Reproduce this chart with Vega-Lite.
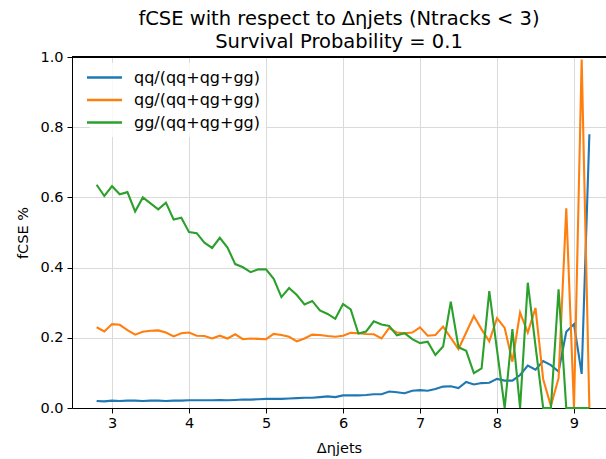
{
 "$schema": "https://vega.github.io/schema/vega-lite/v6.json",
 "width": 534,
 "height": 351,
 "autosize": {"type": "none"},
 "padding": {"left": 72, "top": 57, "right": 0, "bottom": 51},
 "background": "white",
 "config": {
  "font": "DejaVu Sans",
  "view": {"stroke": null},
  "axis": {
   "labelFont": "DejaVu Sans", "titleFont": "DejaVu Sans",
   "labelFontSize": 14.5, "titleFontSize": 14.5, "titleFontWeight": "normal",
   "labelColor": "black", "titleColor": "black",
   "domainColor": "black", "domainWidth": 1,
   "tickColor": "black", "tickSize": 5, "tickWidth": 1,
   "gridColor": "#dadada", "gridWidth": 1
  }
 },
 "title": {
  "text": ["fCSE with respect to Δηjets (Ntracks < 3)", "Survival Probability = 0.1"],
  "fontSize": 19.5, "fontWeight": "normal", "font": "DejaVu Sans", "color": "black",
  "anchor": "middle", "offset": 0, "dy": 3, "lineHeight": 23
 },
 "data": {"values": [
  {"x":2.8,"s":"qq/(qq+qg+gg)","f":0.020},{"x":2.9,"s":"qq/(qq+qg+gg)","f":0.019},{"x":3.0,"s":"qq/(qq+qg+gg)","f":0.021},{"x":3.1,"s":"qq/(qq+qg+gg)","f":0.020},{"x":3.2,"s":"qq/(qq+qg+gg)","f":0.021},{"x":3.3,"s":"qq/(qq+qg+gg)","f":0.021},{"x":3.4,"s":"qq/(qq+qg+gg)","f":0.020},{"x":3.5,"s":"qq/(qq+qg+gg)","f":0.021},{"x":3.6,"s":"qq/(qq+qg+gg)","f":0.021},{"x":3.7,"s":"qq/(qq+qg+gg)","f":0.020},{"x":3.8,"s":"qq/(qq+qg+gg)","f":0.021},{"x":3.9,"s":"qq/(qq+qg+gg)","f":0.021},{"x":4.0,"s":"qq/(qq+qg+gg)","f":0.022},{"x":4.1,"s":"qq/(qq+qg+gg)","f":0.022},{"x":4.2,"s":"qq/(qq+qg+gg)","f":0.022},{"x":4.3,"s":"qq/(qq+qg+gg)","f":0.022},{"x":4.4,"s":"qq/(qq+qg+gg)","f":0.023},{"x":4.5,"s":"qq/(qq+qg+gg)","f":0.022},{"x":4.6,"s":"qq/(qq+qg+gg)","f":0.023},{"x":4.7,"s":"qq/(qq+qg+gg)","f":0.024},{"x":4.8,"s":"qq/(qq+qg+gg)","f":0.024},{"x":4.9,"s":"qq/(qq+qg+gg)","f":0.025},{"x":5.0,"s":"qq/(qq+qg+gg)","f":0.026},{"x":5.1,"s":"qq/(qq+qg+gg)","f":0.026},{"x":5.2,"s":"qq/(qq+qg+gg)","f":0.026},{"x":5.3,"s":"qq/(qq+qg+gg)","f":0.027},{"x":5.4,"s":"qq/(qq+qg+gg)","f":0.028},{"x":5.5,"s":"qq/(qq+qg+gg)","f":0.029},{"x":5.6,"s":"qq/(qq+qg+gg)","f":0.029},{"x":5.7,"s":"qq/(qq+qg+gg)","f":0.031},{"x":5.8,"s":"qq/(qq+qg+gg)","f":0.033},{"x":5.9,"s":"qq/(qq+qg+gg)","f":0.031},{"x":6.0,"s":"qq/(qq+qg+gg)","f":0.036},{"x":6.1,"s":"qq/(qq+qg+gg)","f":0.036},{"x":6.2,"s":"qq/(qq+qg+gg)","f":0.036},{"x":6.3,"s":"qq/(qq+qg+gg)","f":0.037},{"x":6.4,"s":"qq/(qq+qg+gg)","f":0.039},{"x":6.5,"s":"qq/(qq+qg+gg)","f":0.039},{"x":6.6,"s":"qq/(qq+qg+gg)","f":0.047},{"x":6.7,"s":"qq/(qq+qg+gg)","f":0.045},{"x":6.8,"s":"qq/(qq+qg+gg)","f":0.042},{"x":6.9,"s":"qq/(qq+qg+gg)","f":0.049},{"x":7.0,"s":"qq/(qq+qg+gg)","f":0.051},{"x":7.1,"s":"qq/(qq+qg+gg)","f":0.049},{"x":7.2,"s":"qq/(qq+qg+gg)","f":0.054},{"x":7.3,"s":"qq/(qq+qg+gg)","f":0.061},{"x":7.4,"s":"qq/(qq+qg+gg)","f":0.062},{"x":7.5,"s":"qq/(qq+qg+gg)","f":0.057},{"x":7.6,"s":"qq/(qq+qg+gg)","f":0.074},{"x":7.7,"s":"qq/(qq+qg+gg)","f":0.067},{"x":7.8,"s":"qq/(qq+qg+gg)","f":0.071},{"x":7.9,"s":"qq/(qq+qg+gg)","f":0.072},{"x":8.0,"s":"qq/(qq+qg+gg)","f":0.083},{"x":8.1,"s":"qq/(qq+qg+gg)","f":0.078},{"x":8.2,"s":"qq/(qq+qg+gg)","f":0.078},{"x":8.3,"s":"qq/(qq+qg+gg)","f":0.094},{"x":8.4,"s":"qq/(qq+qg+gg)","f":0.121},{"x":8.5,"s":"qq/(qq+qg+gg)","f":0.109},{"x":8.6,"s":"qq/(qq+qg+gg)","f":0.134},{"x":8.7,"s":"qq/(qq+qg+gg)","f":0.122},{"x":8.8,"s":"qq/(qq+qg+gg)","f":0.104},{"x":8.9,"s":"qq/(qq+qg+gg)","f":0.217},{"x":9.0,"s":"qq/(qq+qg+gg)","f":0.239},{"x":9.1,"s":"qq/(qq+qg+gg)","f":0.097},{"x":9.2,"s":"qq/(qq+qg+gg)","f":0.780},
  {"x":2.8,"s":"qg/(qq+qg+gg)","f":0.230},{"x":2.9,"s":"qg/(qq+qg+gg)","f":0.218},{"x":3.0,"s":"qg/(qq+qg+gg)","f":0.239},{"x":3.1,"s":"qg/(qq+qg+gg)","f":0.237},{"x":3.2,"s":"qg/(qq+qg+gg)","f":0.222},{"x":3.3,"s":"qg/(qq+qg+gg)","f":0.209},{"x":3.4,"s":"qg/(qq+qg+gg)","f":0.217},{"x":3.5,"s":"qg/(qq+qg+gg)","f":0.220},{"x":3.6,"s":"qg/(qq+qg+gg)","f":0.221},{"x":3.7,"s":"qg/(qq+qg+gg)","f":0.215},{"x":3.8,"s":"qg/(qq+qg+gg)","f":0.204},{"x":3.9,"s":"qg/(qq+qg+gg)","f":0.213},{"x":4.0,"s":"qg/(qq+qg+gg)","f":0.215},{"x":4.1,"s":"qg/(qq+qg+gg)","f":0.206},{"x":4.2,"s":"qg/(qq+qg+gg)","f":0.205},{"x":4.3,"s":"qg/(qq+qg+gg)","f":0.198},{"x":4.4,"s":"qg/(qq+qg+gg)","f":0.206},{"x":4.5,"s":"qg/(qq+qg+gg)","f":0.198},{"x":4.6,"s":"qg/(qq+qg+gg)","f":0.210},{"x":4.7,"s":"qg/(qq+qg+gg)","f":0.196},{"x":4.8,"s":"qg/(qq+qg+gg)","f":0.198},{"x":4.9,"s":"qg/(qq+qg+gg)","f":0.197},{"x":5.0,"s":"qg/(qq+qg+gg)","f":0.196},{"x":5.1,"s":"qg/(qq+qg+gg)","f":0.211},{"x":5.2,"s":"qg/(qq+qg+gg)","f":0.208},{"x":5.3,"s":"qg/(qq+qg+gg)","f":0.203},{"x":5.4,"s":"qg/(qq+qg+gg)","f":0.190},{"x":5.5,"s":"qg/(qq+qg+gg)","f":0.198},{"x":5.6,"s":"qg/(qq+qg+gg)","f":0.209},{"x":5.7,"s":"qg/(qq+qg+gg)","f":0.208},{"x":5.8,"s":"qg/(qq+qg+gg)","f":0.205},{"x":5.9,"s":"qg/(qq+qg+gg)","f":0.203},{"x":6.0,"s":"qg/(qq+qg+gg)","f":0.206},{"x":6.1,"s":"qg/(qq+qg+gg)","f":0.214},{"x":6.2,"s":"qg/(qq+qg+gg)","f":0.213},{"x":6.3,"s":"qg/(qq+qg+gg)","f":0.211},{"x":6.4,"s":"qg/(qq+qg+gg)","f":0.210},{"x":6.5,"s":"qg/(qq+qg+gg)","f":0.198},{"x":6.6,"s":"qg/(qq+qg+gg)","f":0.228},{"x":6.7,"s":"qg/(qq+qg+gg)","f":0.215},{"x":6.8,"s":"qg/(qq+qg+gg)","f":0.213},{"x":6.9,"s":"qg/(qq+qg+gg)","f":0.215},{"x":7.0,"s":"qg/(qq+qg+gg)","f":0.230},{"x":7.1,"s":"qg/(qq+qg+gg)","f":0.206},{"x":7.2,"s":"qg/(qq+qg+gg)","f":0.208},{"x":7.3,"s":"qg/(qq+qg+gg)","f":0.232},{"x":7.4,"s":"qg/(qq+qg+gg)","f":0.200},{"x":7.5,"s":"qg/(qq+qg+gg)","f":0.168},{"x":7.6,"s":"qg/(qq+qg+gg)","f":0.215},{"x":7.7,"s":"qg/(qq+qg+gg)","f":0.262},{"x":7.8,"s":"qg/(qq+qg+gg)","f":0.224},{"x":7.9,"s":"qg/(qq+qg+gg)","f":0.190},{"x":8.0,"s":"qg/(qq+qg+gg)","f":0.256},{"x":8.1,"s":"qg/(qq+qg+gg)","f":0.228},{"x":8.2,"s":"qg/(qq+qg+gg)","f":0.132},{"x":8.3,"s":"qg/(qq+qg+gg)","f":0.272},{"x":8.4,"s":"qg/(qq+qg+gg)","f":0.215},{"x":8.5,"s":"qg/(qq+qg+gg)","f":0.285},{"x":8.6,"s":"qg/(qq+qg+gg)","f":0.082},{"x":8.7,"s":"qg/(qq+qg+gg)","f":0.006},{"x":8.8,"s":"qg/(qq+qg+gg)","f":0.085},{"x":8.9,"s":"qg/(qq+qg+gg)","f":0.569},{"x":9.0,"s":"qg/(qq+qg+gg)","f":0.0},{"x":9.1,"s":"qg/(qq+qg+gg)","f":0.993},{"x":9.2,"s":"qg/(qq+qg+gg)","f":0.0},
  {"x":2.8,"s":"gg/(qq+qg+gg)","f":0.636},{"x":2.9,"s":"gg/(qq+qg+gg)","f":0.604},{"x":3.0,"s":"gg/(qq+qg+gg)","f":0.632},{"x":3.1,"s":"gg/(qq+qg+gg)","f":0.609},{"x":3.2,"s":"gg/(qq+qg+gg)","f":0.615},{"x":3.3,"s":"gg/(qq+qg+gg)","f":0.560},{"x":3.4,"s":"gg/(qq+qg+gg)","f":0.600},{"x":3.5,"s":"gg/(qq+qg+gg)","f":0.583},{"x":3.6,"s":"gg/(qq+qg+gg)","f":0.566},{"x":3.7,"s":"gg/(qq+qg+gg)","f":0.585},{"x":3.8,"s":"gg/(qq+qg+gg)","f":0.537},{"x":3.9,"s":"gg/(qq+qg+gg)","f":0.542},{"x":4.0,"s":"gg/(qq+qg+gg)","f":0.501},{"x":4.1,"s":"gg/(qq+qg+gg)","f":0.498},{"x":4.2,"s":"gg/(qq+qg+gg)","f":0.471},{"x":4.3,"s":"gg/(qq+qg+gg)","f":0.456},{"x":4.4,"s":"gg/(qq+qg+gg)","f":0.485},{"x":4.5,"s":"gg/(qq+qg+gg)","f":0.457},{"x":4.6,"s":"gg/(qq+qg+gg)","f":0.410},{"x":4.7,"s":"gg/(qq+qg+gg)","f":0.401},{"x":4.8,"s":"gg/(qq+qg+gg)","f":0.387},{"x":4.9,"s":"gg/(qq+qg+gg)","f":0.395},{"x":5.0,"s":"gg/(qq+qg+gg)","f":0.395},{"x":5.1,"s":"gg/(qq+qg+gg)","f":0.368},{"x":5.2,"s":"gg/(qq+qg+gg)","f":0.316},{"x":5.3,"s":"gg/(qq+qg+gg)","f":0.342},{"x":5.4,"s":"gg/(qq+qg+gg)","f":0.322},{"x":5.5,"s":"gg/(qq+qg+gg)","f":0.295},{"x":5.6,"s":"gg/(qq+qg+gg)","f":0.305},{"x":5.7,"s":"gg/(qq+qg+gg)","f":0.278},{"x":5.8,"s":"gg/(qq+qg+gg)","f":0.268},{"x":5.9,"s":"gg/(qq+qg+gg)","f":0.254},{"x":6.0,"s":"gg/(qq+qg+gg)","f":0.296},{"x":6.1,"s":"gg/(qq+qg+gg)","f":0.281},{"x":6.2,"s":"gg/(qq+qg+gg)","f":0.212},{"x":6.3,"s":"gg/(qq+qg+gg)","f":0.218},{"x":6.4,"s":"gg/(qq+qg+gg)","f":0.247},{"x":6.5,"s":"gg/(qq+qg+gg)","f":0.238},{"x":6.6,"s":"gg/(qq+qg+gg)","f":0.234},{"x":6.7,"s":"gg/(qq+qg+gg)","f":0.207},{"x":6.8,"s":"gg/(qq+qg+gg)","f":0.213},{"x":6.9,"s":"gg/(qq+qg+gg)","f":0.196},{"x":7.0,"s":"gg/(qq+qg+gg)","f":0.185},{"x":7.1,"s":"gg/(qq+qg+gg)","f":0.189},{"x":7.2,"s":"gg/(qq+qg+gg)","f":0.151},{"x":7.3,"s":"gg/(qq+qg+gg)","f":0.175},{"x":7.4,"s":"gg/(qq+qg+gg)","f":0.303},{"x":7.5,"s":"gg/(qq+qg+gg)","f":0.173},{"x":7.6,"s":"gg/(qq+qg+gg)","f":0.163},{"x":7.7,"s":"gg/(qq+qg+gg)","f":0.099},{"x":7.8,"s":"gg/(qq+qg+gg)","f":0.113},{"x":7.9,"s":"gg/(qq+qg+gg)","f":0.333},{"x":8.0,"s":"gg/(qq+qg+gg)","f":0.166},{"x":8.1,"s":"gg/(qq+qg+gg)","f":0.0},{"x":8.2,"s":"gg/(qq+qg+gg)","f":0.225},{"x":8.3,"s":"gg/(qq+qg+gg)","f":0.0},{"x":8.4,"s":"gg/(qq+qg+gg)","f":0.357},{"x":8.5,"s":"gg/(qq+qg+gg)","f":0.178},{"x":8.6,"s":"gg/(qq+qg+gg)","f":0.0},{"x":8.7,"s":"gg/(qq+qg+gg)","f":0.0},{"x":8.8,"s":"gg/(qq+qg+gg)","f":0.338},{"x":8.9,"s":"gg/(qq+qg+gg)","f":0.0},{"x":9.0,"s":"gg/(qq+qg+gg)","f":0.0},{"x":9.1,"s":"gg/(qq+qg+gg)","f":0.0},{"x":9.2,"s":"gg/(qq+qg+gg)","f":0.0}
 ]},
 "layer": [
  {
   "mark": {"type": "line", "strokeWidth": 2.1},
   "encoding": {
    "x": {"field": "x", "type": "quantitative",
          "scale": {"domain": [2.48, 9.416], "nice": false, "zero": false},
          "axis": {"values": [3,4,5,6,7,8,9], "format": "d", "title": "Δηjets", "labelPadding": 3, "titlePadding": 12}},
    "y": {"field": "f", "type": "quantitative",
          "scale": {"domain": [0, 1], "nice": false, "zero": true},
          "axis": {"values": [0,0.2,0.4,0.6,0.8,1.0], "format": ".1f", "title": "fCSE %", "labelPadding": 4, "titlePadding": 9}},
    "color": {"field": "s", "type": "nominal",
              "scale": {"domain": ["qq/(qq+qg+gg)", "qg/(qq+qg+gg)", "gg/(qq+qg+gg)"], "range": ["#1f77b4", "#ff7f0e", "#2ca02c"]},
              "sort": null,
              "legend": {"title": null, "orient": "none", "legendX": 18, "legendY": 6, "padding": 6,
                         "symbolType": "M-2.5,0H2.5", "symbolSize": 196, "symbolStrokeWidth": 2.5,
                         "labelFontSize": 16, "labelFont": "DejaVu Sans", "labelColor": "black",
                         "labelOffset": 21, "rowPadding": 5.5,
                         "fillColor": "rgba(255,255,255,0.8)"}}
   }
  },
  {
   "mark": {"type": "rule", "color": "black", "strokeWidth": 1},
   "encoding": {"y": {"datum": 1}}
  }
 ]
}
